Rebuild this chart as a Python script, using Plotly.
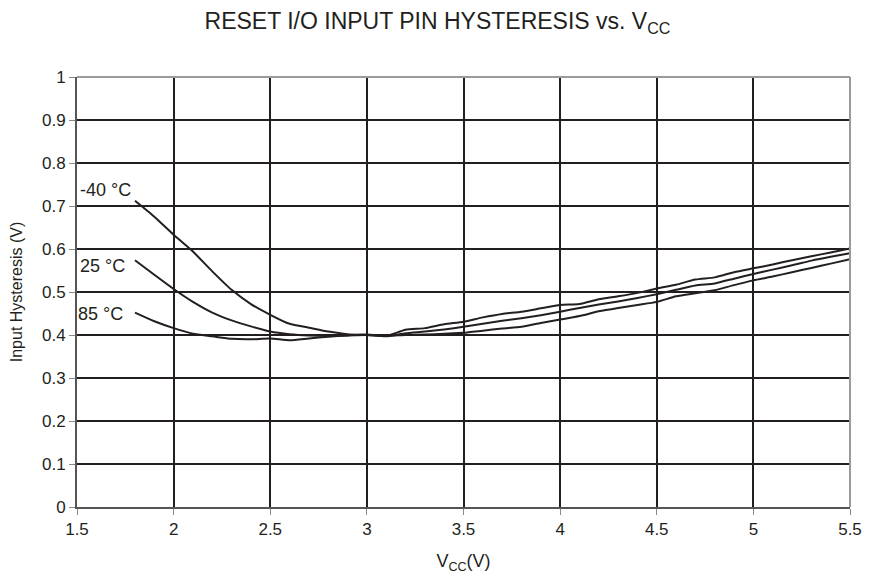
import plotly.graph_objects as go

vcc = [1.8, 1.9, 2.0, 2.1, 2.2, 2.3, 2.4, 2.5, 2.6, 2.7, 2.8, 2.9, 3.0, 3.1, 3.2, 3.3, 3.4, 3.5, 3.6,
       3.7, 3.8, 3.9, 4.0, 4.1, 4.2, 4.3, 4.4, 4.5, 4.6, 4.7, 4.8, 4.9, 5.0, 5.1, 5.2, 5.3, 5.4, 5.5]

hyst_m40 = [0.712, 0.675, 0.633, 0.594, 0.548, 0.505, 0.472, 0.447, 0.426, 0.417, 0.408, 0.402, 0.400,
            0.398, 0.412, 0.416, 0.425, 0.431, 0.441, 0.449, 0.454, 0.462, 0.470, 0.472, 0.483, 0.490,
            0.498, 0.508, 0.517, 0.529, 0.534, 0.546, 0.555, 0.564, 0.574, 0.583, 0.592, 0.601]
hyst_25 = [0.574, 0.540, 0.507, 0.477, 0.452, 0.434, 0.420, 0.408, 0.402, 0.399, 0.398, 0.399, 0.400,
           0.397, 0.404, 0.408, 0.413, 0.419, 0.426, 0.433, 0.439, 0.446, 0.454, 0.463, 0.471, 0.478,
           0.486, 0.495, 0.505, 0.515, 0.520, 0.531, 0.542, 0.552, 0.562, 0.573, 0.582, 0.590]
hyst_85 = [0.452, 0.432, 0.416, 0.403, 0.397, 0.391, 0.390, 0.392, 0.388, 0.392, 0.396, 0.399, 0.401,
           0.398, 0.400, 0.401, 0.403, 0.405, 0.410, 0.415, 0.419, 0.428, 0.436, 0.444, 0.455, 0.463,
           0.470, 0.477, 0.490, 0.497, 0.504, 0.516, 0.527, 0.536, 0.546, 0.556, 0.566, 0.576]

series_names = ["-40 °C", "25 °C", "85 °C"]
series_values = [hyst_m40, hyst_25, hyst_85]
# where each curve label sits (data coordinates: right edge x, middle y)
label_x = [1.788, 1.757, 1.748]
label_y = [0.738, 0.561, 0.450]

x_ticks = [1.5, 2, 2.5, 3, 3.5, 4, 4.5, 5, 5.5]
x_tick_text = ["1.5", "2", "2.5", "3", "3.5", "4", "4.5", "5", "5.5"]
y_ticks = [0, 0.1, 0.2, 0.3, 0.4, 0.5, 0.6, 0.7, 0.8, 0.9, 1]
y_tick_text = ["0", "0.1", "0.2", "0.3", "0.4", "0.5", "0.6", "0.7", "0.8", "0.9", "1"]

ink = "#231f20"
frame = "#9a9a9a"
fig = go.Figure()
for name, ys, lx, ly in zip(series_names, series_values, label_x, label_y):
    fig.add_trace(go.Scatter(x=vcc, y=ys, mode="lines", name=name,
                             line=dict(color=ink, width=2, shape="spline", smoothing=0.6)))
    fig.add_annotation(x=lx, y=ly, text=name, showarrow=False,
                       xanchor="right", yanchor="middle",
                       font=dict(size=18, color=ink))

# light top and right frame edges
fig.add_shape(type="line", xref="paper", yref="paper", x0=0, x1=1, y0=1, y1=1,
              line=dict(color=frame, width=2), layer="above")
fig.add_shape(type="line", xref="paper", yref="paper", x0=1, x1=1, y0=0, y1=1,
              line=dict(color=frame, width=2), layer="above")

# page body has an 8px margin, so the figure is 8px smaller than the window
fig.update_layout(
    width=867, height=576,
    margin=dict(l=69, r=25, t=69, b=77),
    paper_bgcolor="white", plot_bgcolor="white",
    showlegend=False,
    font=dict(family="Liberation Sans, Arial, sans-serif", size=17, color=ink),
    title=dict(text="RESET I/O INPUT PIN HYSTERESIS vs. V<sub>CC</sub>", x=(437.5 - 8) / 867,
               xanchor="center", y=0.977, yanchor="middle", font=dict(size=23, color=ink)),
)
fig.update_xaxes(range=[1.5, 5.5], tickvals=x_ticks, ticktext=x_tick_text,
                 showgrid=True, gridcolor=ink, gridwidth=2, zeroline=False,
                 showline=True, linecolor="#555555", linewidth=2, mirror=False,
                 ticks="outside", ticklen=6, tickcolor="#8a8a8a", tickwidth=1,
                 tickfont=dict(size=17), automargin=False,
                 title=dict(text="V<sub>CC</sub>(V)", standoff=16, font=dict(size=18)))
fig.update_yaxes(range=[0, 1], tickvals=y_ticks, ticktext=y_tick_text,
                 showgrid=True, gridcolor=ink, gridwidth=2, zeroline=False,
                 showline=True, linecolor="#555555", linewidth=2, mirror=False,
                 ticks="outside", ticklen=6, tickcolor="#8a8a8a", tickwidth=1,
                 tickfont=dict(size=17), automargin=False,
                 title=dict(text="Input Hysteresis (V)", standoff=19, font=dict(size=16)))

fig.write_html("out.html")
